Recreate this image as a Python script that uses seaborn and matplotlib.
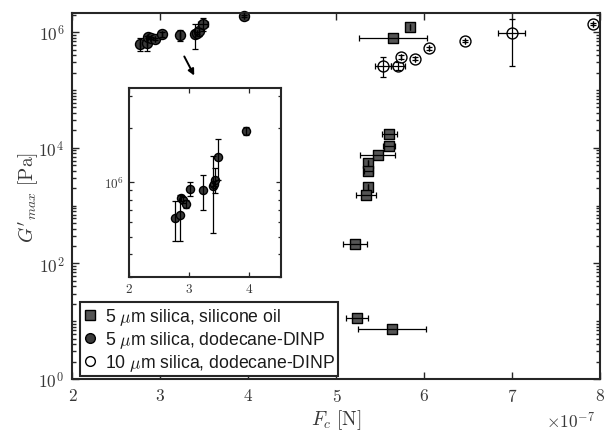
import numpy as np
import pandas as pd
import matplotlib
matplotlib.use("Agg")
import matplotlib.pyplot as plt
import seaborn as sns
from matplotlib.ticker import FixedLocator, LogLocator, NullFormatter, FuncFormatter
from matplotlib.patches import FancyArrowPatch
from matplotlib.lines import Line2D

# Contact force F_c in units of 1e-7 N, storage modulus maximum G'_max in Pa

# 5 um silica in silicone oil
F_sil = [5.84, 5.645, 5.60, 5.597, 5.468, 5.361, 5.361, 5.355, 5.335, 5.21, 5.23, 5.63]
G_sil = [1.23e6, 7.9e5, 1.73e4, 1.09e4, 7.4e3, 5.4e3, 4.0e3, 2.07e3, 1.55e3, 215, 11.4, 7.2]
Ferr_sil = [0.0, 0.385, 0.085, 0.066, 0.20, 0.0, 0.05, 0.0, 0.11, 0.14, 0.125, 0.39]

# 5 um silica in dodecane-DINP
F_dod = [2.762, 2.845, 2.856, 2.89, 2.94, 3.017, 3.223, 3.395, 3.41, 3.433, 3.483, 3.945]
G_dod = [6.3e5, 6.6e5, 8.2e5, 8.0e5, 7.6e5, 9.2e5, 9.0e5, 9.5e5, 9.8e5, 1.03e6, 1.38e6, 1.92e6]
Gerr_dod_lo = [1.6e5, 1.9e5, 3e4, 3e4, 4e4, 8e4, 2e5, 4.3e5, 3e4, 1.6e5, 3.5e5, 1e5]
Gerr_dod_hi = [1.6e5, 1.9e5, 3e4, 3e4, 4e4, 8e4, 2e5, 4.4e5, 3e4, 1.6e5, 3.5e5, 1e5]
Ferr_dod = [0.0, 0.0, 0.0, 0.0, 0.0, 0.0, 0.0, 0.0, 0.0, 0.0, 0.06, 0.0]

# 10 um silica in dodecane-DINP
F_ten = [5.53, 5.70, 5.733, 5.892, 6.055, 6.46, 6.99, 7.92]
G_ten = [2.6e5, 2.6e5, 3.8e5, 3.5e5, 5.3e5, 7.0e5, 9.6e5, 1.38e6]
Ferr_ten = [0.09, 0.075, 0.0, 0.0, 0.0, 0.0, 0.155, 0.0]
Gerr_ten_lo = [0.95e5, 0.4e5, 0.3e5, 0.2e5, 0.3e5, 0.3e5, 7.0e5, 0.5e5]
Gerr_ten_hi = [1.1e5, 0.4e5, 0.3e5, 0.2e5, 0.3e5, 0.3e5, 7.3e5, 0.5e5]

labels = [r"5 $\mu$m silica, silicone oil",
          r"5 $\mu$m silica, dodecane-DINP",
          r"10 $\mu$m silica, dodecane-DINP"]

x_ticks = [2, 3, 4, 5, 6, 7, 8]
y_ticks = [1e0, 1e2, 1e4, 1e6]
inset_x_ticks = [2, 3, 4]

sil = pd.DataFrame({"F": F_sil, "G": G_sil})
dod = pd.DataFrame({"F": F_dod, "G": G_dod})
ten = pd.DataFrame({"F": F_ten, "G": G_ten})

sns.set_style("ticks")
plt.rcParams["font.family"] = ["Liberation Sans", "DejaVu Sans"]
plt.rcParams["mathtext.fontset"] = "cm"

INK = "#262626"
fig = plt.figure(figsize=(6.05, 4.35), dpi=100)
ax = fig.add_axes([0.1198, 0.1264, 0.8727, 0.8414])


def draw(axis, df, marker, face, size, xerr, yerr):
    sns.scatterplot(data=df, x="F", y="G", ax=axis, marker=marker, color=face,
                    edgecolor="black", linewidth=1.0, s=size, zorder=2,
                    legend=False, clip_on=False)
    axis.errorbar(df["F"], df["G"], xerr=xerr, yerr=yerr, fmt="none",
                  ecolor="black", elinewidth=0.9, capsize=2, capthick=0.9,
                  zorder=3, clip_on=False)


draw(ax, sil, "s", "#555555", 44, Ferr_sil, None)
draw(ax, dod, "o", "#3a3a3a", 52, Ferr_dod, [Gerr_dod_lo, Gerr_dod_hi])
draw(ax, ten, "o", "white", 62, Ferr_ten, [Gerr_ten_lo, Gerr_ten_hi])

ax.set_yscale("log")
ax.set_xlim(2, 8)
ax.set_ylim(1, 2.15e6)
ax.xaxis.set_major_locator(FixedLocator(x_ticks))
ax.xaxis.set_major_formatter(FuncFormatter(lambda v, p: r"$%d$" % round(v)))
ax.yaxis.set_major_locator(FixedLocator(y_ticks))
ax.yaxis.set_minor_locator(LogLocator(base=10, subs=np.arange(1, 10), numticks=30))
ax.yaxis.set_major_formatter(FuncFormatter(lambda v, p: r"$10^{%d}$" % round(np.log10(v))))
ax.yaxis.set_minor_formatter(NullFormatter())
ax.tick_params(which="both", direction="in", top=True, right=True,
               color=INK, labelcolor="#383838", labelsize=12.5, width=1.0)
ax.tick_params(which="major", length=5, pad=6)
ax.tick_params(which="minor", length=3)
for s in ax.spines.values():
    s.set_linewidth(1.5)
    s.set_color(INK)

ax.set_xlabel(r"$F_c\ [\mathrm{N}]$", fontsize=14, color="#383838", labelpad=2)
ax.set_ylabel(r"$G'_{max}\ [\mathrm{Pa}]$", fontsize=14, color="#383838", labelpad=-2)
ax.text(0.99, -0.085, r"$\times10^{-7}$", transform=ax.transAxes, ha="right",
        va="top", fontsize=12.5, color="#383838")

# legend
handles = [
    Line2D([], [], ls="none", marker="s", ms=6.5, mfc="#555555", mec="black", mew=1.0),
    Line2D([], [], ls="none", marker="o", ms=7, mfc="#3a3a3a", mec="black", mew=1.0),
    Line2D([], [], ls="none", marker="o", ms=7, mfc="white", mec="black", mew=1.0),
]
leg = ax.legend(handles, labels, loc="lower left", bbox_to_anchor=(0.014, 0.007),
                borderaxespad=0, fontsize=12.7, frameon=True, fancybox=False,
                framealpha=1, edgecolor=INK, handlelength=0.8, handletextpad=0.4,
                borderpad=0.2, labelspacing=0.12)
leg.get_frame().set_linewidth(1.5)
for t in leg.get_texts():
    t.set_color("#1a1a1a")

# inset magnifying the dodecane-DINP cluster
ins = fig.add_axes([0.2137, 0.3616, 0.2502, 0.4331])
draw(ins, dod, "o", "#3a3a3a", 34, None, [Gerr_dod_lo, Gerr_dod_hi])
ins.set_yscale("log")
ins.set_xlim(2, 4.52)
ins.set_ylim(3.0e5, 3.3e6)
ins.xaxis.set_major_locator(FixedLocator(inset_x_ticks))
ins.xaxis.set_major_formatter(FuncFormatter(lambda v, p: r"$%d$" % round(v)))
ins.yaxis.set_major_locator(FixedLocator([1e6]))
ins.yaxis.set_minor_locator(LogLocator(base=10, subs=np.arange(1, 10), numticks=30))
ins.yaxis.set_major_formatter(FuncFormatter(lambda v, p: r"$10^{%d}$" % round(np.log10(v))))
ins.yaxis.set_minor_formatter(NullFormatter())
ins.tick_params(which="both", direction="in", top=True, right=True,
                color=INK, labelcolor="#383838", labelsize=9.5, width=0.9)
ins.tick_params(which="major", length=3.5, pad=4)
ins.tick_params(which="minor", length=2)
ins.set_xlabel("")
ins.set_ylabel("")
for s in ins.spines.values():
    s.set_linewidth(1.5)
    s.set_color(INK)

arrow = FancyArrowPatch((183 / 605, 1 - 55 / 435), (195.5 / 605, 1 - 79 / 435),
                        transform=fig.transFigure, arrowstyle="-|>",
                        mutation_scale=9, lw=1.4, color="black")
fig.add_artist(arrow)

fig.savefig("out.png", dpi=100)
